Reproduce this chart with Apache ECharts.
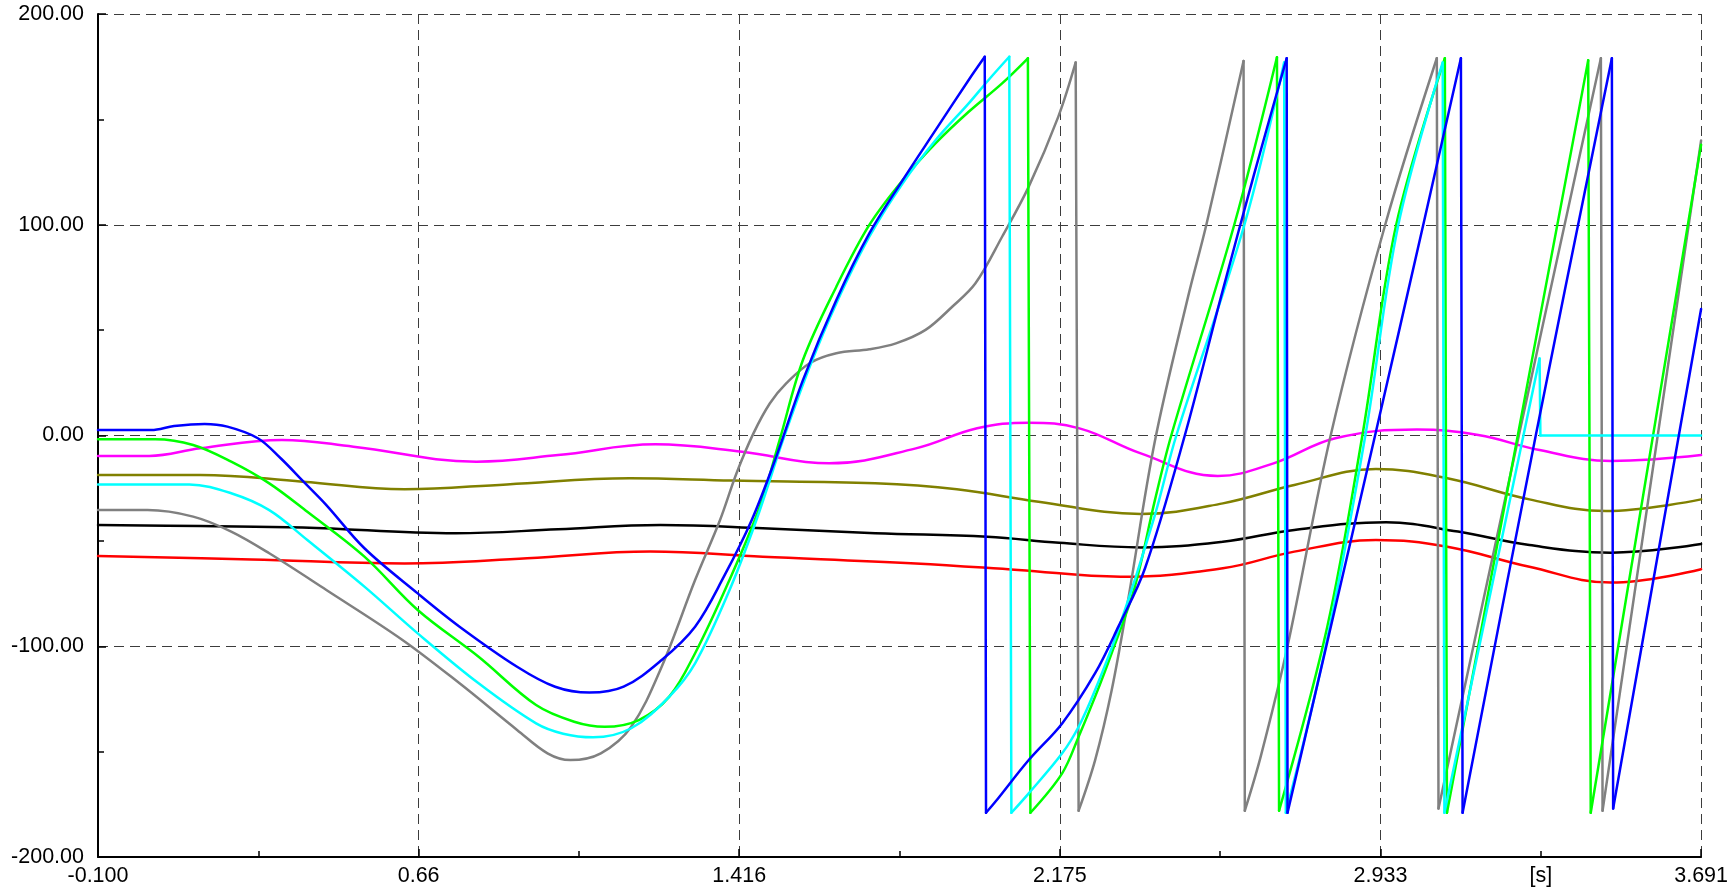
<!DOCTYPE html>
<html><head><meta charset="utf-8">
<script src="https://cdn.jsdelivr.net/npm/echarts@6/dist/echarts.min.js"></script>
<style>html,body{margin:0;padding:0;background:#fff}#c{width:1731px;height:890px}</style>
</head><body><div id="c"></div>
<script>
// ---- tick labels ----
const xTickValues = [-0.1, 0.6582, 1.4164, 2.1746, 2.9328, 3.691];
const xTickLabels = ['-0.100', '0.66', '1.416', '2.175', '2.933', '3.691'];
const xUnitLabel = '[s]';
const xUnitValue = 3.3119;
const yTickValues = [-200, -100, 0, 100, 200];

// ---- smooth signals ----
const magentaData = [[-0.1,-9.7],[0.021,-9.7],[0.142,-6.1],[0.335,-2.1],[0.504,-5.3],[0.795,-12.4],[0.988,-9.3],[1.218,-4.2],[1.423,-7.7],[1.629,-13.2],[1.834,-6.1],[1.979,3.4],[2.100,6.1],[2.221,3.4],[2.366,-8.5],[2.548,-19.2],[2.680,-13.2],[2.826,-1.3],[3.019,2.8],[3.164,0.2],[3.309,-6.9],[3.478,-12.1],[3.691,-9.3]];
const oliveData = [[-0.1,-18.7],[0.142,-18.7],[0.384,-21.9],[0.625,-25.5],[0.867,-23.2],[1.157,-20.3],[1.399,-21.4],[1.738,-22.7],[1.931,-25.5],[2.124,-31.4],[2.366,-37.2],[2.560,-32.2],[2.729,-23.5],[2.922,-15.9],[3.091,-20.3],[3.285,-30.3],[3.466,-35.8],[3.691,-30.3]];
const blackData = [[-0.1,-42.5],[0.142,-43.0],[0.384,-43.6],[0.746,-46.4],[0.988,-44.5],[1.230,-42.5],[1.472,-44.0],[1.738,-46.4],[2.003,-48.0],[2.173,-50.9],[2.366,-53.1],[2.560,-50.4],[2.729,-44.8],[2.946,-41.2],[3.116,-45.6],[3.285,-52.0],[3.478,-55.6],[3.691,-51.5]];
const redData = [[-0.1,-57.2],[0.263,-58.8],[0.625,-60.7],[0.915,-58.3],[1.206,-55.1],[1.472,-57.5],[1.834,-60.7],[2.076,-63.8],[2.318,-67.0],[2.560,-63.0],[2.729,-55.1],[2.922,-49.6],[3.091,-52.8],[3.285,-62.3],[3.478,-69.8],[3.691,-63.5]];

// ---- wrapped angle signals ----
const blueData = [[-0.1,2.6],[0.026,2.6],[0.080,4.5],[0.152,5.5],[0.206,4.2],[0.278,-1.3],[0.332,-10.8],[0.386,-21.9],[0.440,-33],[0.530,-53.5],[0.656,-74.9],[0.755,-90.7],[0.891,-109.7],[0.981,-119.2],[1.062,-122],[1.143,-119.2],[1.233,-106.5],[1.312,-90.7],[1.38,-67],[1.446,-40.1],[1.504,-10],[1.567,26.3],[1.646,64.3],[1.724,95.9],[1.803,121.2],[1.881,145],[1.959,168.7],[1.997,179.7],[2.000,-179],[2.0225,-173.7],[2.101,-154],[2.180,-136.6],[2.258,-112.8],[2.313,-90.7],[2.376,-63],[2.470,0],[2.556,66],[2.634,124],[2.711,179],[2.713,-179],[2.807,-98],[2.92,0],[3.034,100],[3.123,179],[3.127,-179],[3.30,0],[3.480,179],[3.483,-177],[3.691,60]];
const greenData = [[-0.1,-1.8],[0.035,-1.8],[0.125,-4.5],[0.215,-12.4],[0.305,-22.7],[0.395,-36.2],[0.530,-57.5],[0.656,-82.8],[0.800,-105],[0.936,-127.9],[1.026,-135.8],[1.098,-138.2],[1.179,-135],[1.251,-123.9],[1.312,-103.3],[1.39,-70],[1.465,-33.8],[1.512,-2.1],[1.567,35.8],[1.646,70.6],[1.724,99.9],[1.803,121.2],[1.881,138.7],[1.959,153.6],[2.038,167.1],[2.099,179],[2.105,-179],[2.180,-160.3],[2.219,-142.9],[2.258,-123.9],[2.297,-103.3],[2.352,-71.7],[2.399,-31],[2.438,0],[2.587,100],[2.688,179.5],[2.693,-178],[2.807,-90.7],[2.89,0],[2.97,100],[3.085,179],[3.090,-179],[3.424,178],[3.430,-179],[3.691,138]];
const cyanData = [[-0.1,-23.2],[0.116,-23.2],[0.215,-27.4],[0.305,-35.4],[0.395,-49.6],[0.530,-71.7],[0.656,-93.9],[0.800,-117.6],[0.936,-136.6],[1.00,-141.5],[1.071,-143.2],[1.161,-138.9],[1.251,-123.9],[1.312,-108.1],[1.39,-75],[1.457,-40.1],[1.520,-2.1],[1.583,32.6],[1.646,62.7],[1.724,94.3],[1.803,119.7],[1.881,140.2],[1.959,157.6],[2.006,168.7],[2.055,179.7],[2.060,-179],[2.101,-169.8],[2.180,-150.8],[2.219,-138.2],[2.258,-120.8],[2.313,-92],[2.399,-38],[2.45,0],[2.611,100],[2.705,177],[2.709,-179],[2.799,-104],[2.897,0],[2.975,100],[3.080,177],[3.084,-179],[3.309,36.5],[3.311,0],[3.691,0]];
const grayData = [[-0.1,-35.4],[0.017,-35.4],[0.125,-38.5],[0.215,-45.6],[0.305,-55.9],[0.440,-73.3],[0.620,-97],[0.755,-117.6],[0.891,-139.7],[0.963,-150.8],[1.017,-154],[1.089,-150.8],[1.161,-138.2],[1.233,-109.7],[1.312,-68.6],[1.371,-40.1],[1.410,-17.9],[1.450,1],[1.489,15.3],[1.528,24.8],[1.583,34.3],[1.646,39],[1.724,40.9],[1.787,43.7],[1.857,50.1],[1.920,61.1],[1.975,72.2],[2.038,94.3],[2.101,118.1],[2.171,151.3],[2.212,177],[2.219,-178],[2.258,-154],[2.297,-121],[2.336,-78],[2.399,-3],[2.478,66],[2.521,100],[2.609,177.7],[2.612,-178],[2.65,-152],[2.713,-100],[2.815,0],[2.944,100],[3.066,179],[3.070,-177],[3.26,0],[3.454,179],[3.458,-178],[3.691,140]];

const FONT = '"Liberation Sans", Arial, Helvetica, sans-serif';
const GRID = '#3c3c3c';
const LW = 2.5;

// split a wrapped signal: continuous parts (smoothed) and jump segments (straight)
function splitJumps(data) {
  const parts = [], jumps = [];
  for (let i = 0; i < data.length; i++) {
    if (i > 0) {
      const dx = data[i][0] - data[i - 1][0];
      const dy = data[i][1] - data[i - 1][1];
      if (dx < 0.01 && Math.abs(dy) > 20) {
        parts.push(null);
        jumps.push(data[i - 1], data[i], null);
      }
    }
    parts.push(data[i]);
  }
  return { parts: parts, jumps: jumps };
}

function line(name, color, data, smooth) {
  return {
    name: name, type: 'line', data: data,
    smooth: smooth, connectNulls: false,
    symbol: 'none', showSymbol: false,
    lineStyle: { color: color, width: LW, cap: 'round', join: 'round' },
    itemStyle: { color: color },
    emphasis: { disabled: true },
    animation: false
  };
}
function wrapped(name, color, data) {
  const s = splitJumps(data);
  return [line(name, color, s.parts, 0.35), line(name + '-jump', color, s.jumps, false)];
}

const chart = echarts.init(document.getElementById('c'), null, { renderer: 'canvas' });
chart.setOption({
  animation: false,
  backgroundColor: '#fff',
  grid: { left: 98, right: 22, top: 14, bottom: 33, containLabel: false },
  xAxis: {
    type: 'value', min: xTickValues[0], max: xTickValues[xTickValues.length - 1],
    interval: xTickValues[1] - xTickValues[0],
    axisLine: { show: true, onZero: false, lineStyle: { color: '#000', width: 2 } },
    axisTick: { show: true, inside: true, length: 8, lineStyle: { color: '#000', width: 1.5 } },
    minorTick: { show: true, splitNumber: 2, length: 6, lineStyle: { color: '#000', width: 1.5 } },
    splitLine: { show: true, lineStyle: { color: GRID, width: 1, type: [10, 6] } },
    axisLabel: {
      show: true, margin: 8, color: '#000', fontFamily: FONT, fontSize: 21.5,
      showMinLabel: true, showMaxLabel: true,
      formatter: function (v) {
        for (let i = 0; i < xTickValues.length; i++) {
          if (Math.abs(v - xTickValues[i]) < 0.01) return xTickLabels[i];
        }
        return '';
      }
    }
  },
  yAxis: {
    type: 'value', min: yTickValues[0], max: yTickValues[yTickValues.length - 1],
    interval: yTickValues[1] - yTickValues[0],
    axisLine: { show: true, onZero: false, lineStyle: { color: '#000', width: 2 } },
    axisTick: { show: true, inside: true, length: 8, lineStyle: { color: '#000', width: 1.5 } },
    minorTick: { show: true, splitNumber: 2, length: 6, lineStyle: { color: '#000', width: 1.5 } },
    splitLine: { show: true, lineStyle: { color: GRID, width: 1, type: [10, 6] } },
    axisLabel: {
      show: true, margin: 14, color: '#000', fontFamily: FONT, fontSize: 21.5,
      formatter: function (v) { return v.toFixed(2); }
    }
  },
  series: [].concat(
    [line('red', '#ff0000', redData, 0.4),
     line('black', '#000000', blackData, 0.4),
     line('olive', '#808000', oliveData, 0.4),
     line('magenta', '#ff00ff', magentaData, 0.4)],
    wrapped('gray', '#808080', grayData),
    wrapped('green', '#00ff00', greenData),
    wrapped('cyan', '#00ffff', cyanData),
    wrapped('blue', '#0000ff', blueData)
  )
});

const up = chart.convertToPixel({ xAxisIndex: 0 }, xUnitValue);
const baseY = chart.convertToPixel({ yAxisIndex: 0 }, yTickValues[0]);
chart.setOption({
  graphic: [{
    type: 'text', x: up, y: baseY + 8,
    style: { text: xUnitLabel, fill: '#000', font: '21.5px ' + FONT, textAlign: 'center', textVerticalAlign: 'top' },
    silent: true
  }]
});
</script></body></html>
